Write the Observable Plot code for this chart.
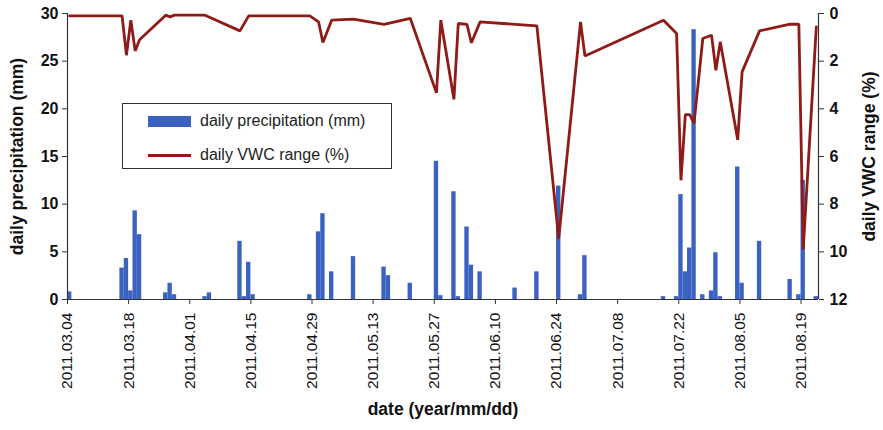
<!DOCTYPE html>
<html><head><meta charset="utf-8">
<script src="https://cdn.jsdelivr.net/npm/d3@7"></script>
<script src="https://cdn.jsdelivr.net/npm/@observablehq/plot@0.6"></script>
<style>
body{margin:0;background:#fff;font-family:"Liberation Sans",Arial,sans-serif;}
#wrap{position:relative;width:883px;height:430px;}
#legend{position:absolute;left:122px;top:103px;width:268px;height:64px;border:1.5px solid #333;background:#fff;font-size:16px;color:#222;}
#legend .row{position:absolute;left:25px;display:flex;align-items:center;height:20px;}
#legend .sw{width:43px;height:11px;background:#3c62c1;margin-right:9px;}
#legend .ln{width:43px;height:3px;background:#8e1b17;margin-right:9px;}
</style></head><body>
<div id="wrap"><div id="legend">
<div class="row" style="top:7px"><div class="sw"></div><span>daily precipitation (mm)</span></div>
<div class="row" style="top:41px"><div class="ln"></div><span>daily VWC range (%)</span></div>
</div></div>
<script>
const precipDates = ["2011-03-04","2011-03-16","2011-03-17","2011-03-18","2011-03-19","2011-03-20","2011-03-26","2011-03-27","2011-03-28","2011-04-04","2011-04-05","2011-04-12","2011-04-13","2011-04-14","2011-04-15","2011-04-28","2011-04-30","2011-05-01","2011-05-03","2011-05-08","2011-05-15","2011-05-16","2011-05-21","2011-05-27","2011-05-28","2011-05-31","2011-06-01","2011-06-03","2011-06-04","2011-06-06","2011-06-14","2011-06-19","2011-06-24","2011-06-29","2011-06-30","2011-07-18","2011-07-21","2011-07-22","2011-07-23","2011-07-24","2011-07-25","2011-07-27","2011-07-29","2011-07-30","2011-07-31","2011-08-04","2011-08-05","2011-08-09","2011-08-16","2011-08-18","2011-08-19","2011-08-22"];
const precipValues = [0.8,3.3,4.3,0.9,9.3,6.8,0.7,1.7,0.5,0.3,0.7,6.1,0.3,3.9,0.5,0.5,7.1,9.0,2.9,4.5,3.4,2.5,1.7,14.5,0.4,11.3,0.3,7.6,3.6,2.9,1.2,2.9,11.9,0.5,4.6,0.3,0.3,11.0,2.9,5.4,28.3,0.5,0.9,4.9,0.3,13.9,1.7,6.1,2.1,0.5,12.5,0.3];
const vwcDates = ["2011-03-04","2011-03-16","2011-03-17","2011-03-18","2011-03-19","2011-03-20","2011-03-26","2011-03-27","2011-03-28","2011-04-04","2011-04-12","2011-04-14","2011-04-28","2011-04-30","2011-05-01","2011-05-03","2011-05-08","2011-05-15","2011-05-21","2011-05-27","2011-05-28","2011-05-31","2011-06-01","2011-06-03","2011-06-04","2011-06-06","2011-06-19","2011-06-24","2011-06-29","2011-06-30","2011-07-18","2011-07-21","2011-07-22","2011-07-23","2011-07-24","2011-07-25","2011-07-27","2011-07-29","2011-07-30","2011-07-31","2011-08-04","2011-08-05","2011-08-09","2011-08-16","2011-08-18","2011-08-19","2011-08-22"];
const vwcValues = [0.1,0.1,1.75,0.28,1.57,1.1,0.07,0.14,0.07,0.07,0.73,0.1,0.1,0.35,1.22,0.28,0.24,0.46,0.2,3.33,0.28,3.6,0.42,0.46,1.23,0.35,0.52,9.45,0.35,1.78,0.28,0.84,7.0,4.24,4.24,4.6,1.05,0.91,2.38,1.19,5.3,2.45,0.73,0.45,0.45,9.9,0.56];
const xTickDates = ["2011-03-04","2011-03-18","2011-04-01","2011-04-15","2011-04-29","2011-05-13","2011-05-27","2011-06-10","2011-06-24","2011-07-08","2011-07-22","2011-08-05","2011-08-19"];
const xDomain = ["2011-03-04","2011-08-23"];
const leftTicks = [0,5,10,15,20,25,30];
const rightTicks = [0,2,4,6,8,10,12];
const yMax = 30, vMax = 12;

const parse = d3.utcParse("%Y-%m-%d");
const precip = precipDates.map((d,i)=>({date:parse(d), value:precipValues[i]}));
const vwc = vwcDates.map((d,i)=>({date:parse(d), value:vwcValues[i]}));
const toY = v => yMax - v*yMax/vMax;
const dom = xDomain.map(parse);

const chart = Plot.plot({
  width: 883, height: 430,
  marginLeft: 67, marginRight: 65, marginTop: 13, marginBottom: 131,
  style: {fontFamily: "'Liberation Sans', Arial, sans-serif", background: "white", color: "#111"},
  x: {type: "utc", domain: dom},
  y: {domain: [0, yMax]},
  marks: [
    Plot.rectY(precip, {x1: d=>d.date, x2: d=>d3.utcDay.offset(d.date,1), y1: 0, y2: "value", fill: "#3c62c1"}),
    Plot.line(vwc, {x: d=>d3.utcHour.offset(d.date,12), y: d=>toY(d.value), stroke: "#8e1b17", strokeWidth: 2.8, strokeLinejoin: "miter"}),
    Plot.ruleY([0], {stroke: "#333", strokeWidth: 1.2}),
    Plot.ruleX([dom[0]], {y1: 0, y2: yMax, stroke: "#333", strokeWidth: 1.2}),
    Plot.ruleX([dom[1]], {y1: 0, y2: yMax, stroke: "#333", strokeWidth: 1.2}),
    Plot.axisY(leftTicks, {anchor: "left", tickSize: 5, tickPadding: 4, fontSize: 16, fontWeight: "bold", label: null, stroke: "#333"}),
    Plot.axisY(rightTicks.map(toY), {anchor: "right", tickSize: 5, tickPadding: 6, fontSize: 16, fontWeight: "bold", label: null, stroke: "#333", tickFormat: y => String(Math.round((yMax - y)*vMax/yMax))}),
    Plot.axisX(xTickDates.map(parse), {anchor: "bottom", tickRotate: -90, tickSize: 5, tickPadding: 8, fontSize: 15.5, label: null, stroke: "#333", tickFormat: d3.utcFormat("%Y.%m.%d")}),
    Plot.text(["daily precipitation (mm)"], {frameAnchor: "left", dx: -50, rotate: -90, textAnchor: "middle", fontSize: 17.5, fontWeight: "bold", fill: "#111"}),
    Plot.text(["daily VWC range (%)"], {frameAnchor: "right", dx: 51, rotate: -90, textAnchor: "middle", fontSize: 17.5, fontWeight: "bold", fill: "#111"}),
    Plot.text(["date (year/mm/dd)"], {frameAnchor: "bottom", dy: 115, fontSize: 17.5, fontWeight: "bold", fill: "#111"})
  ]
});
document.getElementById("wrap").prepend(chart);
</script>
</body></html>
